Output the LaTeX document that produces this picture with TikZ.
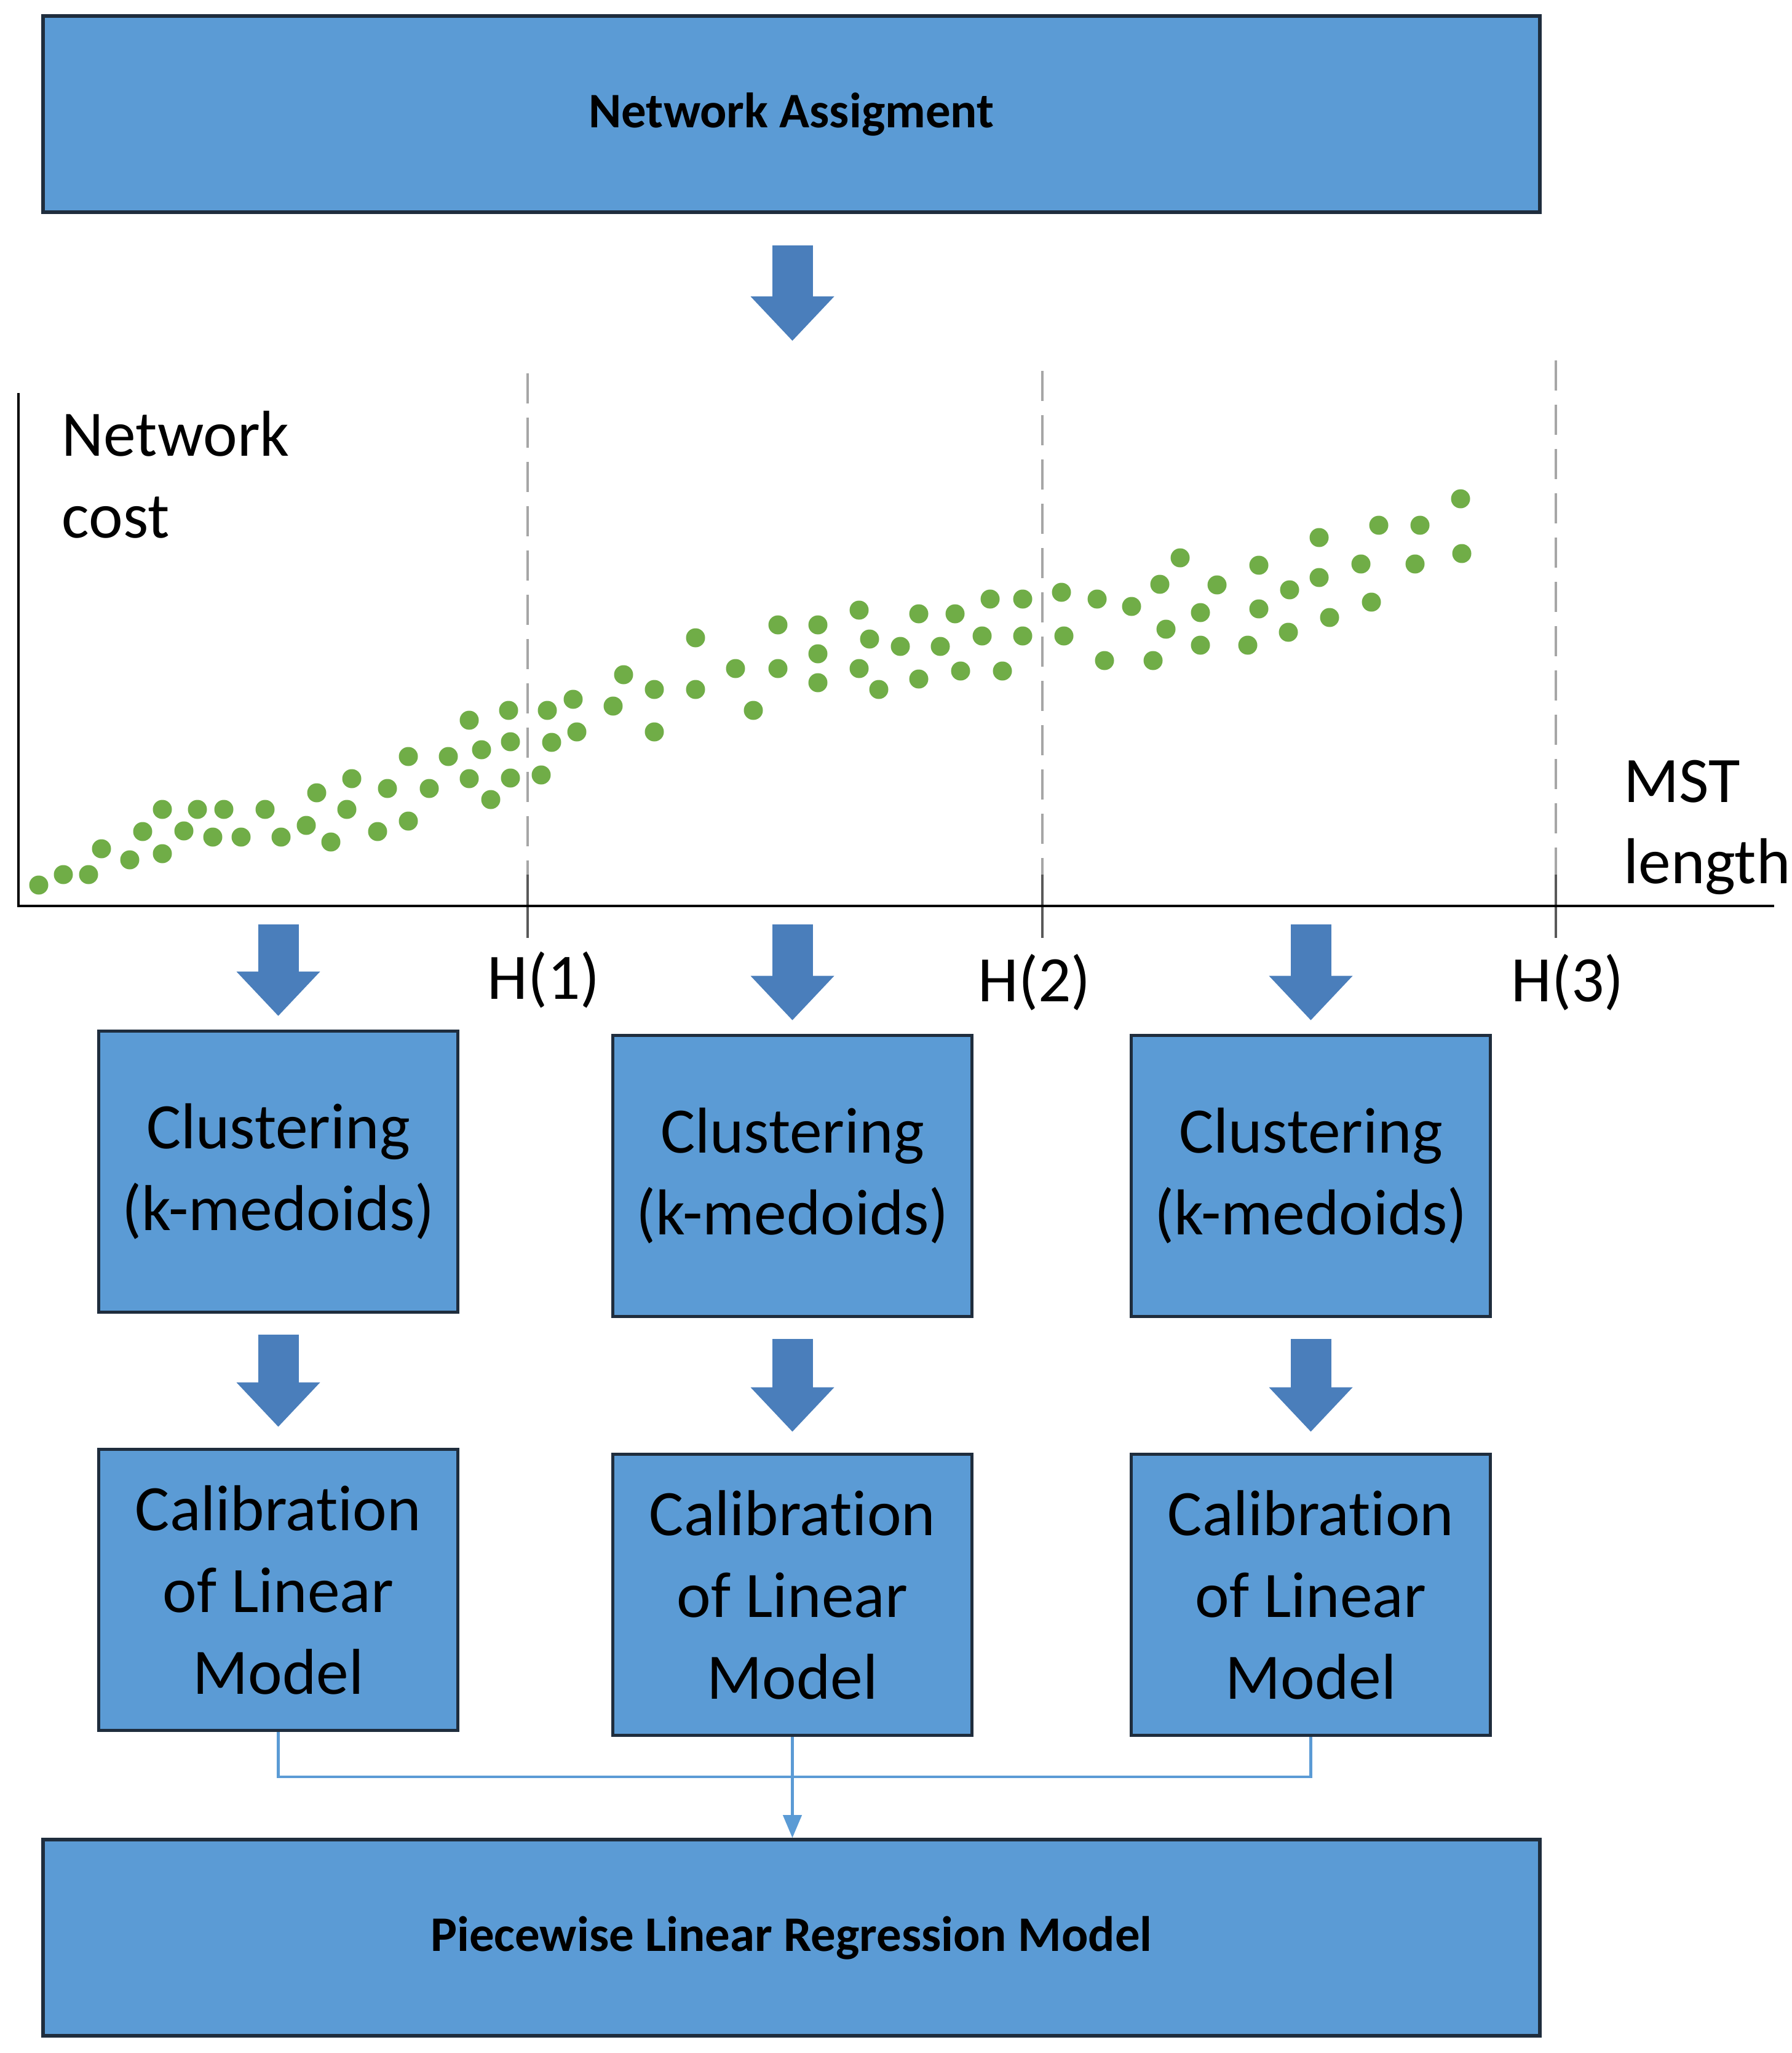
\documentclass[tikz,border=0pt]{standalone}
\usepackage{fontspec}
\setmainfont{Carlito}[Ligatures=NoCommon]
\usepackage{xcolor}
\usetikzlibrary{arrows.meta, positioning}

\definecolor{boxblue}{HTML}{5B9BD5}
\definecolor{arrowblue}{HTML}{4A7EBB}
\definecolor{dotgreen}{HTML}{70AD47}
\definecolor{edgedark}{HTML}{1F2D3D}

\tikzset{
    stagebox/.style={draw=edgedark, line width=1.6pt, fill=boxblue, align=center, inner sep=0pt},
    widebox/.style={stagebox, minimum width=24.34cm, minimum height=3.19cm, font=\fontsize{23}{28}\selectfont\bfseries},
    cellbox/.style={stagebox, minimum width=5.84cm, minimum height=4.57cm, font=\fontsize{30}{37.8}\selectfont},
    fatarrow/.style={draw=arrowblue, line width=0.66cm, -{Triangle[length=0.72cm, width=1.36cm, line width=0pt]}},
    link/.style={draw=boxblue, line width=1.2pt},
    axislabel/.style={font=\fontsize{30}{37.8}\selectfont, align=left, inner sep=0pt},
    divider/.style={draw=black!35, line width=1.2pt, dash pattern=on 0.49cm off 0.23cm},
    tickmark/.style={draw=black!65, line width=1.2pt}
}

\begin{document}
\begin{tikzpicture}
        \useasboundingbox (0,0) rectangle (29.13,-33.38);

        % Stages at top and bottom
        \node[widebox] (assign) at (12.87,-1.855) {Network Assigment};
        \node[widebox] (pwl) at (12.87,-31.505) {Piecewise Linear Regression Model};
        \coordinate (plottop) at (12.885,-5.54);
        \draw[fatarrow, shorten <=0.51cm] (assign.south -| plottop) -- (plottop);

        % Scatter plot of cost against length
        \foreach \x/\t in {8.58/6.07, 16.95/6.03, 25.30/5.86} {
                \draw[divider] (\x,-\t) -- (\x,-14.22);
                \draw[tickmark] (\x,-14.22) -- (\x,-15.25);
            }
        \draw[line width=1.2pt] (0.30,-6.39) -- (0.30,-14.73) -- (28.85,-14.73);
        \foreach \x/\y in {0.63/-14.39, 1.03/-14.22, 1.44/-14.22, 1.65/-13.80, 2.11/-13.98, 2.32/-13.52,
                2.64/-13.16, 2.64/-13.88, 2.99/-13.51, 3.21/-13.16, 3.46/-13.61, 3.64/-13.16, 3.92/-13.61,
                4.31/-13.16, 4.57/-13.61, 4.98/-13.42, 5.15/-12.89, 5.38/-13.69, 5.64/-13.16, 5.72/-12.66,
                6.14/-13.52, 6.30/-12.82, 6.64/-13.35, 6.64/-12.30, 6.98/-12.82, 7.29/-12.30, 7.63/-12.66,
                7.63/-11.71, 7.83/-12.19, 7.98/-13.00, 8.27/-11.55, 8.30/-12.06, 8.30/-12.65, 8.80/-12.60,
                8.90/-11.55, 8.97/-12.07, 9.32/-11.37, 9.38/-11.90, 9.97/-11.48, 10.14/-10.97, 10.64/-11.21,
                10.64/-11.90, 11.31/-10.37, 11.31/-11.21, 11.96/-10.87, 12.25/-11.55, 12.65/-10.16,
                12.65/-10.87, 13.30/-10.16, 13.30/-10.63, 13.30/-11.10, 13.97/-9.92, 13.97/-10.87,
                14.14/-10.39, 14.29/-11.21, 14.64/-10.51, 14.94/-9.98, 14.94/-11.04, 15.53/-9.98,
                16.10/-9.74, 16.63/-9.74, 17.26/-9.63, 17.84/-9.74, 18.40/-9.86, 18.86/-9.50, 19.19/-9.07,
                19.79/-9.51, 20.47/-9.19, 20.97/-9.59, 21.45/-8.74, 21.45/-9.39, 22.13/-9.17, 22.42/-8.54,
                23.09/-8.54, 23.01/-9.17, 23.75/-8.11, 23.77/-9.00, 15.29/-10.51, 15.97/-10.34, 16.63/-10.34,
                17.30/-10.34, 18.96/-10.23, 19.52/-9.96, 20.47/-9.90, 20.95/-10.28, 21.62/-10.04, 22.30/-9.79,
                15.62/-10.91, 16.30/-10.91, 17.96/-10.74, 18.75/-10.74, 19.52/-10.49, 20.29/-10.49} {
                \fill[dotgreen] (\x,\y) circle (0.155);
            }
        \node[axislabel, anchor=north west] (costlabel) at (1.0,-6.68) {Network\\cost};
        \node[axislabel, anchor=north west] (lengthlabel) at (26.40,-12.35) {MST\\length};
        \foreach \x/\y/\n in {8.84/15.93/1, 16.82/15.97/2, 25.49/15.97/3} {
                \node[axislabel] (h\n) at (\x,-\y) {H(\n)};
            }

        % One branch per interval
        \foreach \i/\x/\yc/\yk in {1/4.525/19.05/25.85, 2/12.885/19.12/25.93, 3/21.315/19.12/25.93} {
                \node[cellbox] (clu\i) at (\x,-\yc) {Clustering\\(k-medoids)};
                \node[cellbox] (cal\i) at (\x,-\yk) {Calibration\\of Linear\\Model};
                \coordinate (drop\i) at (\x,-15.03);
                \draw[fatarrow, shorten >=0.22cm] (drop\i) -- (clu\i);
                \draw[fatarrow, shorten <=0.34cm, shorten >=0.34cm] (clu\i) -- (cal\i);
            }

        % Merge into the final model
        \coordinate (merge) at (12.885,-28.89);
        \draw[link] (cal1) |- (merge);
        \draw[link] (cal3) |- (merge);
        \draw[link, -{Triangle[length=0.37cm, width=0.30cm]}] (cal2.south) -- (cal2.south |- pwl.north);
    \end{tikzpicture}
\end{document}
